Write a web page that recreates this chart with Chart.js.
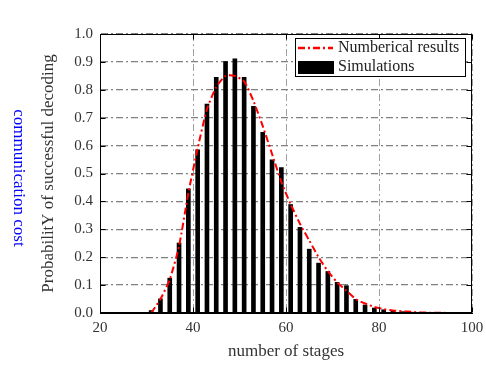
<!DOCTYPE html>
<html>
<head>
<meta charset="utf-8">
<script src="https://cdn.jsdelivr.net/npm/chart.js@4.4.1/dist/chart.umd.min.js"></script>
<style>
html, body { margin: 0; padding: 0; background: #fff; }
#wrap { width: 486px; height: 367px; position: relative; }
</style>
</head>
<body>
<div id="wrap"><canvas id="myChart"></canvas></div>
<script>
// data
const stages = [31, 33, 35, 37, 39, 41, 43, 45, 47, 49, 51, 53, 55, 57, 59, 61, 63,
                65, 67, 69, 71, 73, 75, 77, 79, 81, 83, 85, 87, 89, 91, 93, 95, 97];
const numerical = [0, 0.05, 0.12, 0.24, 0.43, 0.59, 0.73, 0.81, 0.85, 0.85, 0.83, 0.76, 0.67, 0.57, 0.47, 0.39, 0.32,
                   0.26, 0.20, 0.15, 0.11, 0.08, 0.05, 0.034, 0.022, 0.014, 0.009, 0.006, 0.004, 0.002, 0.001, 0.001, 0, 0];
const simulations = [0.01, 0.052, 0.126, 0.252, 0.446, 0.586, 0.75, 0.846, 0.902, 0.912, 0.846, 0.742, 0.649, 0.55, 0.522, 0.39, 0.308,
                     0.23, 0.18, 0.15, 0.111, 0.099, 0.05, 0.03, 0.019, 0.013, 0.01, 0.006, 0.004, 0.003, 0.002, 0.001, 0.001, 0.001];
const xTicks = [20, 40, 60, 80, 100];
const yTicks = [0, 0.1, 0.2, 0.3, 0.4, 0.5, 0.6, 0.7, 0.8, 0.9, 1.0];

const serif = '"Liberation Serif", "DejaVu Serif", serif';
const dashDot = [7, 3, 2, 3];

// box, inner ticks, legend and the blue side label
const extras = {
    id: 'extras',
    afterDraw(chart) {
        const ctx = chart.ctx;
        const a = chart.chartArea;
        const sx = chart.scales.x, sy = chart.scales.y;
        const L = Math.round(a.left) + 0.5, R = Math.round(a.right) - 0.5;
        const T = Math.round(a.top) + 0.5, B = Math.round(a.bottom) - 0.5;
        ctx.save();
        ctx.strokeStyle = '#000';
        ctx.lineWidth = 1;
        ctx.setLineDash([]);
        ctx.strokeRect(L, T, R - L, B - T);
        ctx.beginPath();
        yTicks.forEach(v => {
            const y = Math.round(sy.getPixelForValue(v)) + 0.5;
            ctx.moveTo(L, y); ctx.lineTo(L + 5, y);
            ctx.moveTo(R, y); ctx.lineTo(R - 5, y);
        });
        xTicks.forEach(v => {
            const x = Math.round(sx.getPixelForValue(v)) + 0.5;
            ctx.moveTo(x, B); ctx.lineTo(x, B - 5);
            ctx.moveTo(x, T); ctx.lineTo(x, T + 5);
        });
        ctx.stroke();

        // legend
        const ds = chart.data.datasets;
        const bx = 295, by = 38, bw = 170, bh = 38;
        ctx.fillStyle = '#fff';
        ctx.fillRect(bx, by, bw, bh);
        ctx.strokeStyle = '#000';
        ctx.strokeRect(bx + 0.5, by + 0.5, bw, bh);
        ctx.strokeStyle = ds[0].borderColor;
        ctx.lineWidth = 2.5;
        ctx.setLineDash(dashDot);
        ctx.beginPath();
        ctx.moveTo(bx + 3, by + 10); ctx.lineTo(bx + 38, by + 10);
        ctx.stroke();
        ctx.setLineDash([]);
        ctx.fillStyle = ds[1].backgroundColor;
        ctx.fillRect(bx + 3, by + 23, 36, 13);
        ctx.fillStyle = '#222';
        ctx.font = '16px ' + serif;
        ctx.textBaseline = 'middle';
        ctx.textAlign = 'left';
        ctx.fillText(ds[0].label, bx + 43, by + 10);
        ctx.fillText(ds[1].label, bx + 43, by + 29);

        // blue label
        ctx.translate(18, 178);
        ctx.rotate(Math.PI / 2);
        ctx.fillStyle = '#0000ff';
        ctx.font = '17px ' + serif;
        ctx.textAlign = 'center';
        ctx.fillText('communication cost', 0, 0);
        ctx.restore();
    }
};

const ctx = document.getElementById('myChart').getContext('2d');

new Chart(ctx, {
    type: 'bar',
    data: {
        datasets: [{
            type: 'line',
            label: 'Numberical results',
            data: stages.map((s, i) => ({ x: s, y: numerical[i] })),
            borderColor: '#ff0000',
            borderWidth: 2,
            borderDash: dashDot,
            pointRadius: 0,
            tension: 0.2,
            fill: false,
            order: 0
        }, {
            type: 'bar',
            label: 'Simulations',
            data: stages.map((s, i) => ({ x: s, y: simulations[i] })),
            backgroundColor: '#000',
            barPercentage: 0.5,
            categoryPercentage: 1,
            order: 1
        }]
    },
    options: {
        responsive: true,
        maintainAspectRatio: false,
        animation: false,
        layout: { padding: { left: 34, right: 14, top: 34, bottom: 1 } },
        plugins: { legend: { display: false }, tooltip: { enabled: false } },
        scales: {
            x: {
                type: 'linear',
                offset: false,
                min: 20,
                max: 100,
                afterBuildTicks: s => { s.ticks = xTicks.map(v => ({ value: v })); },
                afterFit: s => { s.height = 53; s.paddingRight = 0; s.paddingLeft = 0; },
                ticks: {
                    color: '#333',
                    padding: 6,
                    font: { family: serif, size: 15 }
                },
                grid: { offset: false, color: '#a0a0a0', lineWidth: 1, drawTicks: false },
                border: { display: true, color: '#000', dash: dashDot },
                title: {
                    display: true,
                    text: 'number of stages',
                    color: '#333',
                    font: { family: serif, size: 17 }
                }
            },
            y: {
                min: 0,
                max: 1,
                afterBuildTicks: s => { s.ticks = yTicks.map(v => ({ value: v })); },
                afterFit: s => { s.width = 66; },
                ticks: {
                    color: '#333',
                    padding: 7,
                    font: { family: serif, size: 15 },
                    callback: v => v.toFixed(1)
                },
                grid: { color: '#808080', lineWidth: 1.3, drawTicks: false },
                border: { display: true, color: '#000', dash: dashDot },
                title: {
                    display: true,
                    text: 'ProbabilitY of successful decoding',
                    color: '#333',
                    font: { family: serif, size: 17 }
                }
            }
        }
    },
    plugins: [extras]
});
</script>
</body>
</html>
